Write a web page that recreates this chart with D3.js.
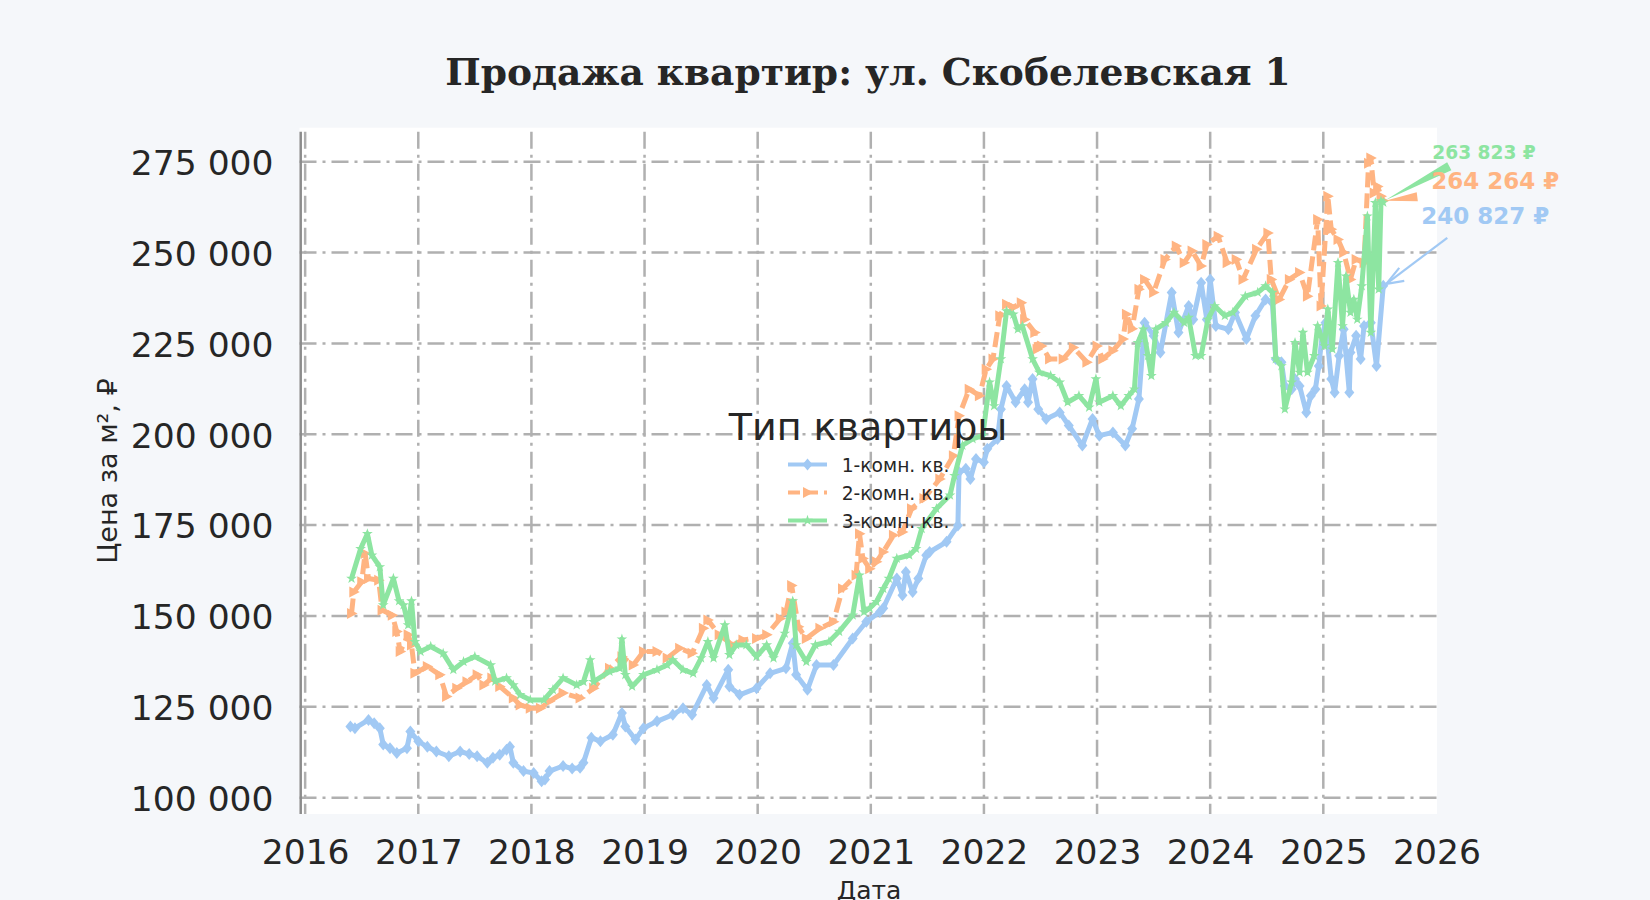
<!DOCTYPE html>
<html>
<head>
<meta charset="utf-8">
<script src="https://cdn.jsdelivr.net/npm/d3@7"></script>
<style>
  body { margin: 0; background: #f5f7fa; }
  svg { display: block; font-family: "DejaVu Sans", sans-serif; }
</style>
</head>
<body>
<script>
const WIDTH = 1650;
const HEIGHT = 900;

// tick values / labels
const xTicks = [2016, 2017, 2018, 2019, 2020, 2021, 2022, 2023, 2024, 2025, 2026];
const xTickLabels = ['2016', '2017', '2018', '2019', '2020', '2021', '2022', '2023', '2024', '2025', '2026'];
const yTicks = [100000, 125000, 150000, 175000, 200000, 225000, 250000, 275000];
const yTickLabels = ['100 000', '125 000', '150 000', '175 000', '200 000', '225 000', '250 000', '275 000'];

const categories = ['1-комн. кв.', '2-комн. кв.', '3-комн. кв.'];
const colors = ['#a1c9f4', '#ffb482', '#8de5a1'];
const lastLabels = ['240 827 ₽', '264 264 ₽', '263 823 ₽'];

// dates as decimal years, price per m2
const t1 = [2016.40, 2016.44, 2016.56, 2016.61, 2016.66, 2016.69, 2016.75, 2016.81, 2016.90, 2016.93,
    2017.00, 2017.08, 2017.16, 2017.27, 2017.37, 2017.45, 2017.52, 2017.61, 2017.66, 2017.72,
    2017.78, 2017.81, 2017.84, 2017.93, 2018.02, 2018.09, 2018.12, 2018.16, 2018.28, 2018.36,
    2018.43, 2018.46, 2018.53, 2018.61, 2018.72, 2018.80, 2018.83, 2018.92, 2018.99, 2019.11,
    2019.25, 2019.34, 2019.42, 2019.55, 2019.61, 2019.74, 2019.75, 2019.84, 2019.99, 2020.11,
    2020.25, 2020.31, 2020.34, 2020.44, 2020.52, 2020.67, 2020.84, 2020.96, 2021.08, 2021.11,
    2021.23, 2021.28, 2021.31, 2021.37, 2021.42, 2021.49, 2021.52, 2021.67, 2021.77, 2021.78,
    2021.84, 2021.88, 2021.93, 2022.00, 2022.03, 2022.12, 2022.15, 2022.20, 2022.28, 2022.36,
    2022.39, 2022.43, 2022.48, 2022.55, 2022.67, 2022.75, 2022.87, 2022.96, 2023.02, 2023.14,
    2023.25, 2023.31, 2023.37, 2023.42, 2023.50, 2023.56, 2023.66, 2023.72, 2023.81, 2023.85,
    2023.92, 2023.97, 2024.00, 2024.05, 2024.16, 2024.22, 2024.32, 2024.40, 2024.49, 2024.55,
    2024.58, 2024.63, 2024.66, 2024.72, 2024.75, 2024.79, 2024.85, 2024.89, 2024.93, 2024.96,
    2024.99, 2025.02, 2025.07, 2025.10, 2025.14, 2025.18, 2025.23, 2025.24, 2025.29, 2025.33,
    2025.36, 2025.42, 2025.47, 2025.53];
const price1 = [119600, 119100, 121400, 120500, 119100, 114600, 113600, 112300, 113600, 118200,
    115500, 114000, 112700, 111400, 112700, 112000, 111400, 109600, 111000, 111800,
    113200, 114000, 109600, 107300, 106800, 104500, 105000, 107300, 108700, 108000,
    108200, 109600, 116500, 115500, 117300, 123300, 119600, 116000, 119100, 121000,
    122800, 124600, 122800, 131000, 127400, 135200, 130600, 128300, 130100, 134200,
    135600, 142500, 133800, 129700, 136500, 136500, 143800, 148400, 151100, 152100,
    160300, 155700, 162100, 156600, 160300, 166700, 167600, 170400, 174900, 189600,
    190500, 187700, 193200, 192300, 196000, 198700, 206900, 213300, 208800, 212400,
    208800, 215200, 206900, 204200, 206000, 202400, 196900, 204200, 199600, 200500,
    196900, 201500, 209700, 230700, 227100, 222500, 239000, 228000, 235300, 231600,
    241700, 231600, 242600, 229800, 228900, 233500, 226200, 232600, 237100, 236200,
    220700, 219800, 213300, 212400, 215200, 213300, 206000, 210600, 212400, 218800,
    227100, 230700, 215200, 211500, 221600, 228900, 211500, 222500, 227100, 220700,
    229800, 230700, 218800, 240827];

const t2 = [2016.41, 2016.43, 2016.50, 2016.53, 2016.56, 2016.65, 2016.68, 2016.77, 2016.81, 2016.84,
    2016.91, 2016.94, 2016.97, 2017.08, 2017.19, 2017.25, 2017.34, 2017.43, 2017.52, 2017.58,
    2017.65, 2017.72, 2017.84, 2017.90, 2017.99, 2018.08, 2018.16, 2018.28, 2018.43, 2018.55,
    2018.69, 2018.80, 2018.90, 2018.99, 2019.11, 2019.20, 2019.31, 2019.42, 2019.52, 2019.56,
    2019.66, 2019.78, 2019.87, 2019.99, 2020.08, 2020.20, 2020.25, 2020.30, 2020.36, 2020.43,
    2020.55, 2020.67, 2020.75, 2020.87, 2020.90, 2020.93, 2020.99, 2021.05, 2021.11, 2021.20,
    2021.28, 2021.36, 2021.47, 2021.61, 2021.73, 2021.78, 2021.87, 2021.96, 2022.02, 2022.08,
    2022.14, 2022.20, 2022.26, 2022.33, 2022.36, 2022.45, 2022.47, 2022.51, 2022.58, 2022.70,
    2022.79, 2022.91, 2023.00, 2023.05, 2023.14, 2023.23, 2023.26, 2023.31, 2023.37, 2023.42,
    2023.50, 2023.60, 2023.70, 2023.77, 2023.84, 2023.92, 2023.97, 2024.07, 2024.15, 2024.23,
    2024.29, 2024.41, 2024.51, 2024.54, 2024.61, 2024.70, 2024.79, 2024.86, 2024.95, 2024.98,
    2025.04, 2025.07, 2025.13, 2025.18, 2025.24, 2025.29, 2025.36, 2025.40, 2025.42, 2025.45,
    2025.48, 2025.51, 2025.53];
const price2 = [150700, 156600, 159400, 167200, 160300, 159800, 151600, 150200, 145700, 140200,
    144800, 142000, 134200, 136100, 133800, 127800, 130100, 131900, 133800, 131000,
    132900, 130600, 127400, 125500, 124600, 124600, 126500, 128800, 127400, 130100,
    135600, 138800, 136500, 140200, 140200, 138400, 141100, 139700, 146600, 148900,
    144800, 142000, 143400, 143800, 144800, 149300, 151100, 158400, 147000, 143800,
    146600, 148400, 157500, 161200, 172600, 165800, 163000, 164900, 167600, 172200,
    173100, 179500, 182300, 187700, 194100, 205100, 212400, 210600, 217900, 220700,
    232600, 235800, 234900, 236200, 231600, 228000, 223400, 224300, 220700, 220700,
    223900, 219800, 224300, 220700, 223000, 226200, 233000, 229000, 239900, 242600,
    239000, 248100, 251800, 247200, 250400, 246300, 252200, 254500, 247200, 248100,
    242600, 250900, 255400, 242600, 237100, 242600, 244500, 238000, 259100, 235300,
    265500, 256400, 253600, 250000, 242600, 248100, 247200, 274600, 276000, 266400,
    268200, 265500, 264264];

const t3 = [2016.41, 2016.49, 2016.55, 2016.59, 2016.66, 2016.69, 2016.78, 2016.83, 2016.87, 2016.91,
    2016.94, 2016.97, 2017.02, 2017.11, 2017.22, 2017.31, 2017.40, 2017.50, 2017.64, 2017.68,
    2017.78, 2017.84, 2017.90, 2017.99, 2018.11, 2018.19, 2018.28, 2018.40, 2018.46, 2018.52,
    2018.55, 2018.69, 2018.78, 2018.80, 2018.83, 2018.89, 2018.99, 2019.11, 2019.20, 2019.25,
    2019.34, 2019.43, 2019.50, 2019.56, 2019.61, 2019.71, 2019.75, 2019.81, 2019.90, 2019.99,
    2020.08, 2020.14, 2020.24, 2020.31, 2020.34, 2020.43, 2020.51, 2020.63, 2020.72, 2020.84,
    2020.90, 2020.94, 2020.99, 2021.05, 2021.11, 2021.16, 2021.23, 2021.34, 2021.40, 2021.45,
    2021.58, 2021.70, 2021.74, 2021.81, 2021.90, 2021.99, 2022.05, 2022.09, 2022.15, 2022.20,
    2022.26, 2022.30, 2022.34, 2022.43, 2022.49, 2022.59, 2022.67, 2022.74, 2022.84, 2022.93,
    2022.99, 2023.02, 2023.14, 2023.21, 2023.28, 2023.33, 2023.36, 2023.41, 2023.45, 2023.48,
    2023.52, 2023.61, 2023.68, 2023.77, 2023.81, 2023.87, 2023.92, 2023.98, 2024.04, 2024.13,
    2024.20, 2024.31, 2024.42, 2024.49, 2024.55, 2024.58, 2024.63, 2024.66, 2024.72, 2024.75,
    2024.79, 2024.82, 2024.86, 2024.92, 2024.95, 2025.01, 2025.04, 2025.08, 2025.13, 2025.17,
    2025.20, 2025.24, 2025.27, 2025.30, 2025.34, 2025.39, 2025.42, 2025.46, 2025.49, 2025.51,
    2025.53];
const price3 = [160300, 168500, 172600, 166700, 163500, 153000, 160300, 154100, 153000, 147500,
    154100, 142900, 140200, 141600, 139700, 135200, 137400, 138800, 136500, 132000,
    132900, 131000, 128300, 126900, 126900, 129700, 132900, 131000, 131900, 137900,
    131900, 134700, 135600, 143600, 133800, 130600, 133800, 135200, 136500, 137900,
    135200, 134200, 138400, 142900, 138400, 147500, 139300, 142000, 142000, 138800,
    142000, 138400, 145200, 154100, 142000, 137400, 142000, 142900, 145700, 150200,
    161200, 151100, 152100, 153900, 157500, 160300, 165800, 166700, 168500, 174000,
    179500, 183200, 188600, 196900, 198700, 199600, 214300, 207800, 220700, 233900,
    233000, 228900, 229800, 220700, 217000, 216100, 214300, 208800, 210600, 207400,
    215200, 208800, 210600, 207800, 210600, 212400, 225200, 228900, 221600, 216100,
    228900, 230700, 233500, 230700, 232100, 221600, 221600, 231600, 235300, 232600,
    233500, 238000, 239000, 240800, 239000, 220700, 218800, 206900, 214300, 225200,
    217000, 228000, 217000, 221600, 229800, 224300, 234400, 223400, 247200, 229800,
    243500, 233500, 237100, 231600, 240800, 260000, 228000, 263700, 239900, 264200,
    263823];

const seriesT = [t1, t2, t3];
const seriesV = [price1, price2, price3];

const plot = { left: 299.5, right: 1437, top: 127.7, bottom: 814 };

const x = d3.scaleLinear().domain([2015.95, 2026.005]).range([plot.left, plot.right]);
const y = d3.scaleLinear().domain([95500, 284350]).range([plot.bottom, plot.top]);

const svg = d3.select('body')
    .append('svg')
    .attr('width', WIDTH)
    .attr('height', HEIGHT);

svg.append('rect')
    .attr('width', WIDTH)
    .attr('height', HEIGHT)
    .attr('fill', '#f5f7fa');

svg.append('rect')
    .attr('x', plot.left)
    .attr('y', plot.top)
    .attr('width', plot.right - plot.left)
    .attr('height', plot.bottom - plot.top)
    .attr('fill', '#ffffff');

// grid
const gridDash = '17,6,3,6';
svg.append('g')
    .selectAll('line')
    .data(yTicks)
    .join('line')
    .attr('x1', plot.left)
    .attr('x2', plot.right)
    .attr('y1', d => y(d))
    .attr('y2', d => y(d))
    .attr('stroke', '#b0b0b0')
    .attr('stroke-width', 2.5)
    .attr('stroke-dasharray', gridDash);
svg.append('g')
    .selectAll('line')
    .data(xTicks.slice(0, -1))
    .join('line')
    .attr('x1', d => x(d))
    .attr('x2', d => x(d))
    .attr('y1', plot.top + 4)
    .attr('y2', plot.bottom)
    .attr('stroke', '#b0b0b0')
    .attr('stroke-width', 2.5)
    .attr('stroke-dasharray', gridDash);

// left spine
svg.append('line')
    .attr('x1', plot.left + 1.2)
    .attr('x2', plot.left + 1.2)
    .attr('y1', plot.top + 4)
    .attr('y2', plot.bottom)
    .attr('stroke', '#8c8c8c')
    .attr('stroke-width', 2.5);

// axes
const yAxis = svg.append('g')
    .attr('transform', 'translate(' + plot.left + ',0)')
    .call(d3.axisLeft(y).tickValues(yTicks).tickSize(0).tickPadding(26)
        .tickFormat((d, i) => yTickLabels[i]));
yAxis.select('.domain').remove();
yAxis.selectAll('text')
    .attr('font-size', '34.5px')
    .attr('font-family', 'DejaVu Sans')
    .attr('fill', '#262626')
    .attr('dy', '0.37em');

const xAxis = svg.append('g')
    .attr('transform', 'translate(0,' + plot.bottom + ')')
    .call(d3.axisBottom(x).tickValues(xTicks).tickSize(0).tickPadding(26)
        .tickFormat((d, i) => xTickLabels[i]));
xAxis.select('.domain').remove();
xAxis.selectAll('text')
    .attr('font-size', '34.5px')
    .attr('font-family', 'DejaVu Sans')
    .attr('fill', '#262626');

// markers
const markerPaths = [
    'M0,-6L5,0L0,6L-5,0Z',
    'M6,0L-4.5,-5.5L-4.5,5.5Z',
    d3.symbol(d3.symbolStar, 36)()
];
const dashes = [null, '15,6', null];

seriesT.forEach(function(ts, k) {
    var pts = ts.map((t, i) => [t, seriesV[k][i]]);
    var line = d3.line().x(d => x(d[0])).y(d => y(d[1]));
    svg.append('path')
        .datum(pts)
        .attr('d', line)
        .attr('fill', 'none')
        .attr('stroke', colors[k])
        .attr('stroke-width', 5)
        .attr('stroke-linejoin', 'round')
        .attr('stroke-dasharray', dashes[k]);
    svg.append('g')
        .selectAll('path')
        .data(pts)
        .join('path')
        .attr('transform', d => 'translate(' + x(d[0]) + ',' + y(d[1]) + ')')
        .attr('d', markerPaths[k])
        .attr('fill', colors[k]);
});

// annotations of last values
function wedge(x0, y0, x1, y1, w) {
    var dx = x1 - x0, dy = y1 - y0;
    var len = Math.sqrt(dx * dx + dy * dy);
    var nx = -dy / len * w / 2, ny = dx / len * w / 2;
    return 'M' + (x0 + nx) + ',' + (y0 + ny) + 'L' + x1 + ',' + y1 + 'L' + (x0 - nx) + ',' + (y0 - ny) + 'Z';
}

var last = seriesT.map((ts, k) => [x(ts[ts.length - 1]), y(seriesV[k][seriesV[k].length - 1])]);

// blue: thin arrow
var b = last[0];
svg.append('line')
    .attr('x1', b[0] + 64).attr('y1', b[1] - 48)
    .attr('x2', b[0] + 3).attr('y2', b[1] - 2)
    .attr('stroke', colors[0]).attr('stroke-width', 2.2);
svg.append('path')
    .attr('d', 'M' + (b[0] + 16) + ',' + (b[1] - 18) + 'L' + (b[0] + 3) + ',' + (b[1] - 2) +
        'L' + (b[0] + 21) + ',' + (b[1] - 5))
    .attr('fill', 'none').attr('stroke', colors[0]).attr('stroke-width', 2.2);

// orange: wedge
var o = last[1];
svg.append('path')
    .attr('d', wedge(o[0] + 34, o[1] - 4, o[0] + 2, o[1], 9))
    .attr('fill', colors[1]);

// green: wedge
var g = last[2];
svg.append('path')
    .attr('d', wedge(g[0] + 66, g[1] - 36, g[0] + 2, g[1] - 2, 9))
    .attr('fill', colors[2]);

var labelPos = [[38, -62, 23], [48, -12, 23], [49, -43, 18.6]];
lastLabels.forEach(function(txt, k) {
    svg.append('text')
        .attr('x', last[k][0] + labelPos[k][0])
        .attr('y', last[k][1] + labelPos[k][1])
        .attr('font-size', labelPos[k][2] + 'px')
        .attr('font-weight', 'bold')
        .attr('fill', colors[k])
        .text(txt);
});

// legend
svg.append('text')
    .attr('x', 868)
    .attr('y', 440)
    .attr('text-anchor', 'middle')
    .attr('font-size', '38px')
    .attr('fill', '#262626')
    .text('Тип квартиры');

const legendY = [464.5, 492.5, 520.5];
categories.forEach(function(c, k) {
    svg.append('line')
        .attr('x1', 788).attr('x2', 827)
        .attr('y1', legendY[k]).attr('y2', legendY[k])
        .attr('stroke', colors[k])
        .attr('stroke-width', 4)
        .attr('stroke-dasharray', k === 1 ? '12,6' : null);
    svg.append('path')
        .attr('transform', 'translate(807.5,' + legendY[k] + ')')
        .attr('d', markerPaths[k])
        .attr('fill', colors[k]);
    svg.append('text')
        .attr('x', 841.7)
        .attr('y', legendY[k] + 7)
        .attr('font-size', '18.7px')
        .attr('fill', '#262626')
        .text(c);
});

// titles
svg.append('text')
    .attr('x', 868)
    .attr('y', 85)
    .attr('text-anchor', 'middle')
    .attr('font-family', 'DejaVu Serif')
    .attr('font-weight', 'bold')
    .attr('font-size', '37.6px')
    .attr('fill', '#262626')
    .text('Продажа квартир: ул. Скобелевская 1');

svg.append('text')
    .attr('transform', 'translate(117,471) rotate(-90)')
    .attr('text-anchor', 'middle')
    .attr('font-size', '27px')
    .attr('fill', '#262626')
    .text('Цена за м², ₽');

svg.append('text')
    .attr('x', 869)
    .attr('y', 899)
    .attr('text-anchor', 'middle')
    .attr('font-size', '25px')
    .attr('fill', '#262626')
    .text('Дата');
</script>
</body>
</html>
